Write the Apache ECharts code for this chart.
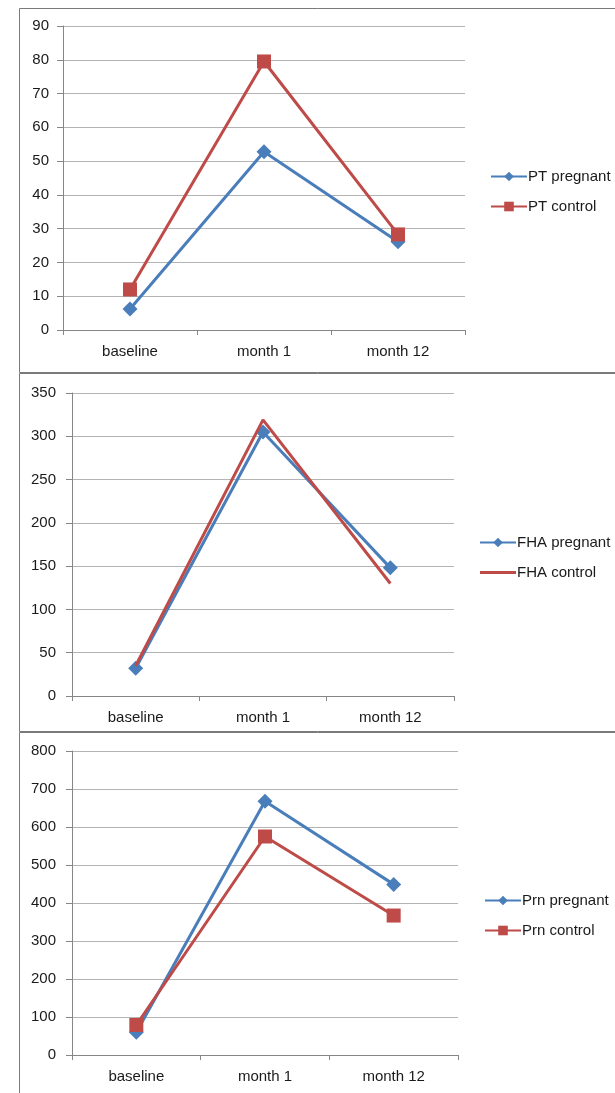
<!DOCTYPE html>
<html>
<head>
<meta charset="utf-8">
<script src="https://cdn.jsdelivr.net/npm/echarts@6/dist/echarts.min.js"></script>
<style>
  html, body { margin: 0; padding: 0; background: #fff; }
  #chart { width: 615px; height: 1093px; }
</style>
</head>
<body>
<div id="chart"></div>
<script>
// Antibody titres over time, three antigens, pregnant vs control
const categories = ['baseline', 'month 1', 'month 12'];

const ptPregnant = [6.2, 52.8, 26.1];
const ptControl = [12.0, 79.5, 28.3];

const fhaPregnant = [32, 305, 148];
const fhaControl = [35, 319, 130];

const prnPregnant = [60, 668, 449];
const prnControl = [79, 575, 367];

const yMax = [90, 350, 800];
const yStep = [10, 50, 100];

const BLUE = '#4a7ebb';
const RED = '#be4b48';
const FONT = 'Liberation Sans';
const TEXT = '#1a1a1a';

const grids = [
  { left: 63, top: 26, width: 402, height: 304 },
  { left: 72, top: 393, width: 382, height: 303 },
  { left: 72, top: 751, width: 386, height: 304 }
];

const legendPos = [
  { left: 490, top: 169 },
  { left: 479, top: 535 },
  { left: 484, top: 893 }
];

const chart = echarts.init(document.getElementById('chart'), null, { renderer: 'canvas' });

const xAxes = grids.map((g, i) => ({
  type: 'category',
  gridIndex: i,
  data: categories,
  boundaryGap: true,
  axisLine: { lineStyle: { color: '#868686', width: 1 } },
  axisTick: { show: true, length: 5, lineStyle: { color: '#868686' } },
  axisLabel: { color: TEXT, fontFamily: FONT, fontSize: 15, margin: 14 },
  splitLine: { show: false }
}));

const yAxes = grids.map((g, i) => ({
  type: 'value',
  gridIndex: i,
  min: 0,
  max: yMax[i],
  interval: yStep[i],
  axisLine: { show: true, lineStyle: { color: '#868686', width: 1 } },
  axisTick: { show: true, length: 6, lineStyle: { color: '#868686' } },
  axisLabel: { color: TEXT, fontFamily: FONT, fontSize: 15, margin: i === 0 ? 14 : 16 },
  splitLine: { show: true, lineStyle: { color: '#b4b4b4', width: 1 } }
}));

function lineSeries(name, data, idx, color, symbol, size) {
  return {
    name: name,
    type: 'line',
    xAxisIndex: idx,
    yAxisIndex: idx,
    data: data,
    color: color,
    symbol: symbol,
    symbolSize: size,
    showSymbol: symbol !== 'none',
    lineStyle: { color: color, width: 3 },
    itemStyle: { color: color },
    emphasis: { disabled: true },
    animation: false,
    // control series is drawn over the pregnant series
    z: color === RED ? 3 : 2
  };
}

const series = [
  lineSeries('PT pregnant', ptPregnant, 0, BLUE, 'diamond', 15),
  lineSeries('PT control', ptControl, 0, RED, 'rect', 14),
  lineSeries('FHA pregnant', fhaPregnant, 1, BLUE, 'diamond', 15),
  lineSeries('FHA control', fhaControl, 1, RED, 'none', 0),
  lineSeries('Prn pregnant', prnPregnant, 2, BLUE, 'diamond', 15),
  lineSeries('Prn control', prnControl, 2, RED, 'rect', 14)
];

const legendNames = [
  ['PT pregnant', 'PT control'],
  ['FHA pregnant', 'FHA control'],
  ['Prn pregnant', 'Prn control']
];

// a series without markers gets a plain line swatch
const plainLineIcon = 'path://M0,0H36V3H0Z';

const legends = legendNames.map((names, i) => ({
  data: names.map(n => (n === 'FHA control' ? { name: n, icon: plainLineIcon } : { name: n })),
  orient: 'vertical',
  left: legendPos[i].left,
  top: legendPos[i].top,
  padding: 0,
  itemWidth: 36,
  itemHeight: 12,
  itemGap: 15,
  selectedMode: false,
  textStyle: { color: TEXT, fontFamily: FONT, fontSize: 15, padding: [0, 0, 0, -4] }
}));

// panel frames
const frameTops = [8, 373, 732];
const frameBottoms = [372, 731, 1100];
const graphics = frameTops.map((t, i) => ({
  type: 'rect',
  silent: true,
  shape: { x: 19.5, y: t + 0.5, width: 620, height: frameBottoms[i] - t },
  style: { fill: null, stroke: '#7a7a7a', lineWidth: 1 },
  z: -1
}));

chart.setOption({
  animation: false,
  backgroundColor: '#ffffff',
  grid: grids,
  xAxis: xAxes,
  yAxis: yAxes,
  series: series,
  legend: legends,
  graphic: graphics
});
</script>
</body>
</html>
